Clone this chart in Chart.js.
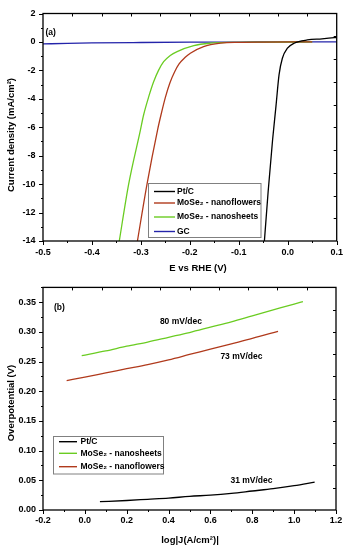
<!DOCTYPE html>
<html><head><meta charset="utf-8">
<script src="https://cdn.jsdelivr.net/npm/chart.js@4/dist/chart.umd.min.js"></script>
<style>
html,body{margin:0;padding:0;background:#fff;}
#wrap{position:relative;width:352px;height:550px;}
.c{position:absolute;left:0;width:352px;height:275px;}
</style></head><body>
<div id="wrap">
<div class="c" style="top:0"><canvas id="ca"></canvas></div>
<div class="c" style="top:275px"><canvas id="cb"></canvas></div>
</div>
<script>
// ---------- Panel (a): polarization curves, E (V vs RHE) vs J (mA/cm2) ----------
const ptE = [-0.049, -0.040, -0.031, -0.024, -0.0178, -0.011, -0.0006, 0.013, 0.040, 0.070, 0.095, 0.100];
const ptJ = [-14.6, -10.5, -6.9, -4.5, -2.32, -1.15, -0.44, -0.09, 0.14, 0.22, 0.30, 0.32];
const nfE = [-0.309, -0.2875, -0.266, -0.259, -0.250, -0.241, -0.231, -0.222, -0.210, -0.199, -0.172, -0.137, -0.100, -0.050, 0.050];
const nfJ = [-14.4, -10.0, -6.2, -5.14, -3.9, -2.9, -2.1, -1.55, -1.1, -0.80, -0.33, -0.09, -0.03, -0.01, 0.0];
const nsE = [-0.346, -0.325, -0.301, -0.2945, -0.284, -0.274, -0.264, -0.2535, -0.240, -0.226, -0.192, -0.158, -0.117, -0.050, 0.050];
const nsJ = [-14.4, -10.0, -6.2, -5.14, -3.85, -2.8, -2.0, -1.39, -0.95, -0.68, -0.26, -0.09, -0.03, -0.01, 0.0];
const gcE = [-0.5, -0.45, -0.4, -0.3, -0.2, -0.1, 0.0, 0.1];
const gcJ = [-0.14, -0.10, -0.07, -0.04, -0.02, -0.01, 0.0, 0.0];
const seriesA = ['Pt/C', 'MoSe\u2082 - nanoflowers', 'MoSe\u2082 - nanosheets', 'GC'];
const xTicksA = [-0.5, -0.4, -0.3, -0.2, -0.1, 0.0, 0.1];
const yTicksA = [-14, -12, -10, -8, -6, -4, -2, 0, 2];

// ---------- Panel (b): Tafel plots, log|J| vs overpotential (V) ----------
const tPtX = [0.072, 0.2, 0.3, 0.4, 0.5, 0.6, 0.7, 0.8, 0.9, 1.0, 1.098];
const tPtY = [0.014, 0.016, 0.018, 0.020, 0.023, 0.025, 0.028, 0.032, 0.036, 0.041, 0.047];
const tNsX = [-0.015, 0.1, 0.2, 0.3, 0.4, 0.5, 0.6, 0.7, 0.8, 0.9, 1.0, 1.042];
const tNsY = [0.260, 0.268, 0.276, 0.283, 0.291, 0.299, 0.308, 0.317, 0.327, 0.337, 0.347, 0.351];
const tNfX = [-0.087, 0.0, 0.1, 0.2, 0.3, 0.4, 0.5, 0.6, 0.7, 0.8, 0.923];
const tNfY = [0.218, 0.224, 0.231, 0.238, 0.245, 0.253, 0.262, 0.271, 0.280, 0.289, 0.301];
const seriesB = ['Pt/C', 'MoSe\u2082 - nanosheets', 'MoSe\u2082 - nanoflowers'];
const tafelNotes = ['80 mV/dec', '73 mV/dec', '31 mV/dec'];
const xTicksB = [-0.2, 0.0, 0.2, 0.4, 0.6, 0.8, 1.0, 1.2];
const yTicksB = [0.00, 0.05, 0.10, 0.15, 0.20, 0.25, 0.30, 0.35];

// ---------- styling ----------
const FONT = '"Liberation Sans", Arial, sans-serif';
const C_BLACK = '#000000', C_RED = '#b03a1c', C_GREEN = '#6acc22', C_BLUE = '#2424aa';
Chart.defaults.font.family = FONT;
Chart.defaults.font.weight = 'bold';
Chart.defaults.color = '#000';

function pts(xs, ys) { return xs.map((x, i) => ({x: x, y: ys[i]})); }
function ds(label, xs, ys, color) {
  return {label: label, data: pts(xs, ys), borderColor: color, backgroundColor: color,
    borderWidth: 1.3, pointRadius: 0, fill: false, cubicInterpolationMode: 'monotone', tension: 0.4};
}

const decor = {
  id: 'decor',
  afterDraw(chart, args, o) {
    const ctx = chart.ctx, a = chart.chartArea, xs = chart.scales.x, ys = chart.scales.y;
    ctx.save();
    ctx.strokeStyle = '#000';
    ctx.lineWidth = 1;
    ctx.beginPath();
    const nx = Math.round((xs.max - xs.min) / o.xMinor);
    for (let i = 0; i <= nx; i++) {
      const px = Math.round(xs.getPixelForValue(xs.min + i * o.xMinor)) + 0.5;
      const L = i % 2 === 0 ? 4 : 2;
      ctx.moveTo(px, a.bottom); ctx.lineTo(px, a.bottom + L);
    }
    const ny = Math.round((ys.max - ys.min) / o.yMinor);
    for (let i = 0; i <= ny; i++) {
      const py = Math.round(ys.getPixelForValue(ys.min + i * o.yMinor)) + 0.5;
      const L = i % 2 === 0 ? 4 : 2;
      ctx.moveTo(a.left, py); ctx.lineTo(a.left - L, py);
    }
    for (let k = 1; k < 10; k++) {
      const px = Math.round(a.left + (a.right - a.left) * k / 10) + 0.5;
      ctx.moveTo(px, a.top); ctx.lineTo(px, a.top + 3);
      const py = Math.round(a.top + (a.bottom - a.top) * k / 10) + 0.5;
      ctx.moveTo(a.right, py); ctx.lineTo(a.right - 3, py);
    }
    ctx.stroke();
    ctx.lineWidth = 1.3;
    ctx.strokeRect(a.left, a.top, a.right - a.left, a.bottom - a.top);

    // legend
    const L = o.legend;
    ctx.lineWidth = 1;
    ctx.strokeStyle = '#808080';
    ctx.strokeRect(L.x + 0.5, L.y + 0.5, L.w, L.h);
    ctx.font = 'bold 8.5px ' + FONT;
    ctx.textAlign = 'left';
    ctx.textBaseline = 'middle';
    ctx.fillStyle = '#000';
    L.order.forEach((di, i) => {
      const d = chart.data.datasets[di];
      const ry = L.rows[i];
      ctx.strokeStyle = d.borderColor;
      ctx.lineWidth = 1.4;
      ctx.beginPath(); ctx.moveTo(L.lx0, ry); ctx.lineTo(L.lx1, ry); ctx.stroke();
      ctx.fillText(d.label, L.tx, ry);
    });

    // panel tag
    ctx.font = 'bold 8.5px ' + FONT;
    ctx.fillText(o.tag.text, o.tag.x, o.tag.y);

    // notes (data-anchored)
    (o.notes || []).forEach(n => {
      ctx.textAlign = 'center';
      ctx.fillText(n.text, xs.getPixelForValue(n.x), ys.getPixelForValue(n.y));
    });

    // axis titles
    ctx.font = 'bold 9.5px ' + FONT;
    ctx.textAlign = 'center';
    ctx.fillText(o.xTitle.text, o.xTitle.x, o.xTitle.y);
    ctx.translate(o.yTitle.x, o.yTitle.y);
    ctx.rotate(-Math.PI / 2);
    ctx.fillText(o.yTitle.text, 0, 0);
    ctx.restore();
  }
};

function scaleCfg(min, max, tickVals, fmt, pad, isX, fitSize) {
  return {
    type: 'linear', min: min, max: max,
    grid: {display: false, drawTicks: false},
    border: {display: false},
    afterBuildTicks: s => { s.ticks = tickVals.map(v => ({value: v})); },
    afterFit: s => { if (isX) s.height = fitSize; else s.width = fitSize; },
    ticks: {padding: pad, font: {size: 9, weight: 'bold', family: FONT}, color: '#000',
      maxRotation: 0, autoSkip: false, includeBounds: false, callback: v => fmt(v)}
  };
}

new Chart(document.getElementById('ca'), {
  type: 'line',
  data: {datasets: [
    ds(seriesA[0], ptE, ptJ, C_BLACK),
    ds(seriesA[1], nfE, nfJ, C_RED),
    ds(seriesA[2], nsE, nsJ, C_GREEN),
    ds(seriesA[3], gcE, gcJ, C_BLUE)
  ]},
  options: {
    responsive: true, maintainAspectRatio: false, animation: false, devicePixelRatio: 1,
    layout: {padding: {top: 13.5, right: 15.3, left: 0, bottom: 0}},
    plugins: {
      legend: {display: false}, tooltip: {enabled: false},
      decor: {
        xMinor: 0.05, yMinor: 1,
        legend: {x: 148, y: 183, w: 112.5, h: 54, order: [0, 1, 2, 3],
          rows: [191.5, 203, 217, 231.5], lx0: 154, lx1: 175, tx: 177},
        tag: {text: '(a)', x: 45.5, y: 32.7},
        xTitle: {text: 'E vs RHE (V)', x: 198, y: 268},
        yTitle: {text: 'Current density (mA/cm\u00B2)', x: 11, y: 135}
      }
    },
    scales: {
      x: scaleCfg(-0.5, 0.1, xTicksA, v => Number(v).toFixed(1), 6.5, true, 34),
      y: scaleCfg(-14, 2, yTicksA, v => String(Math.round(v)), 7.5, false, 43)
    }
  },
  plugins: [decor]
});

new Chart(document.getElementById('cb'), {
  type: 'line',
  data: {datasets: [
    ds(seriesB[0], tPtX, tPtY, C_BLACK),
    ds(seriesB[1], tNsX, tNsY, C_GREEN),
    ds(seriesB[2], tNfX, tNfY, C_RED)
  ]},
  options: {
    responsive: true, maintainAspectRatio: false, animation: false, devicePixelRatio: 1,
    layout: {padding: {top: 9, right: 16, left: 0, bottom: 0}},
    plugins: {
      legend: {display: false}, tooltip: {enabled: false},
      decor: {
        xMinor: 0.1, yMinor: 0.025,
        legend: {x: 53, y: 161, w: 110, h: 37.5, order: [0, 1, 2],
          rows: [166.7, 178.3, 191.7], lx0: 59, lx1: 77, tx: 80.5},
        tag: {text: '(b)', x: 54, y: 32.7},
        notes: [
          {text: tafelNotes[0], x: 0.459, y: 0.318},
          {text: tafelNotes[1], x: 0.748, y: 0.258},
          {text: tafelNotes[2], x: 0.796, y: 0.050}
        ],
        xTitle: {text: 'log|J(A/cm\u00B2)|', x: 190, y: 265},
        yTitle: {text: 'Overpotential (V)', x: 11, y: 128}
      }
    },
    scales: {
      x: scaleCfg(-0.2, 1.2, xTicksB, v => Number(v).toFixed(1), 5, true, 40),
      y: scaleCfg(0, 0.375, yTicksB, v => Number(v).toFixed(2), 7, false, 43)
    }
  },
  plugins: [decor]
});
</script>
</body></html>
